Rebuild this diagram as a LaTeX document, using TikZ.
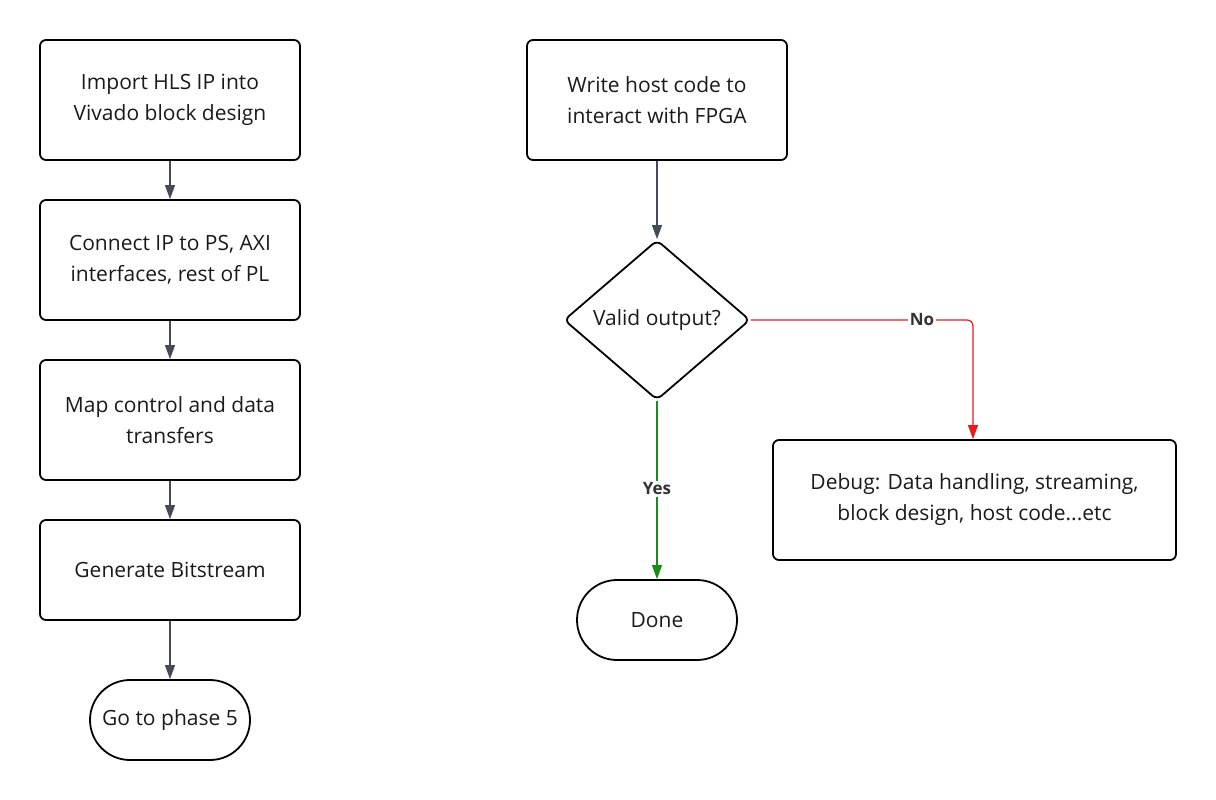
\documentclass[tikz,border=0pt]{standalone}
\usepackage{fontspec}
\setmainfont{Open Sans}
\usetikzlibrary{arrows.meta,shapes.geometric,shapes.misc}
\definecolor{edgegray}{HTML}{454A57}
\definecolor{nored}{HTML}{E81C1C}
\definecolor{yesgreen}{HTML}{198C19}
\definecolor{txt}{HTML}{1A1A1A}
\definecolor{lbltxt}{HTML}{333333}
\tikzset{
  every node/.style={font=\fontsize{21}{31}\selectfont, text=txt},
  procbox/.style={draw=black, line width=1.8pt, rounded corners=6pt, minimum width=260pt, minimum height=120pt, align=center, inner sep=0pt},
  term/.style={draw=black, line width=1.8pt, rounded rectangle, minimum width=160pt, minimum height=80pt, align=center, inner sep=0pt},
  decision/.style={draw=black, line width=1.8pt, diamond, minimum width=186pt, minimum height=160pt, rounded corners=6pt, inner sep=0pt, align=center},
  conn/.style={draw=edgegray, line width=1.2pt, -{Triangle[width=10pt,length=14pt]}},
  lbl/.style={fill=white, inner sep=2pt, text=lbltxt, font=\fontsize{17}{20}\selectfont\bfseries}
}
\begin{document}
\begin{tikzpicture}[x=1pt,y=-1pt]
\useasboundingbox (0,0) rectangle (1216,800);
\node[procbox] (a) at (170,100) {Import HLS IP into\\Vivado block design};
\node[procbox] (b) at (170,260) {Connect IP to PS, AXI\\interfaces, rest of PL};
\node[procbox] (c) at (170,420) {Map control and data\\transfers};
\node[procbox, minimum height=100pt] (d) at (170,570) {Generate Bitstream};
\node[term] (e) at (170,720) {Go to phase 5};
\node[procbox] (f) at (657,100) {Write host code to\\interact with FPGA};
\node[decision] (g) at (657,320) {Valid output?};
\node[term] (h) at (657,620) {Done};
\node[procbox, minimum width=403pt] (i) at (974.5,500) {Debug: Data handling, streaming,\\block design, host code...etc};
\coordinate (corner) at (973,320);
\draw[conn] (a) -- (b);
\draw[conn] (b) -- (c);
\draw[conn] (c) -- (d);
\draw[conn] (d) -- (e);
\draw[conn] (f) -- (g);
\draw[conn, draw=nored, rounded corners=6pt] (g.east) -- (corner) -- (i.north -| corner);
\node[lbl] at (922,320) {No};
\draw[conn, draw=yesgreen] (g.south) -- (h.north);
\node[lbl] at (657,489) {Yes};
\end{tikzpicture}
\end{document}
